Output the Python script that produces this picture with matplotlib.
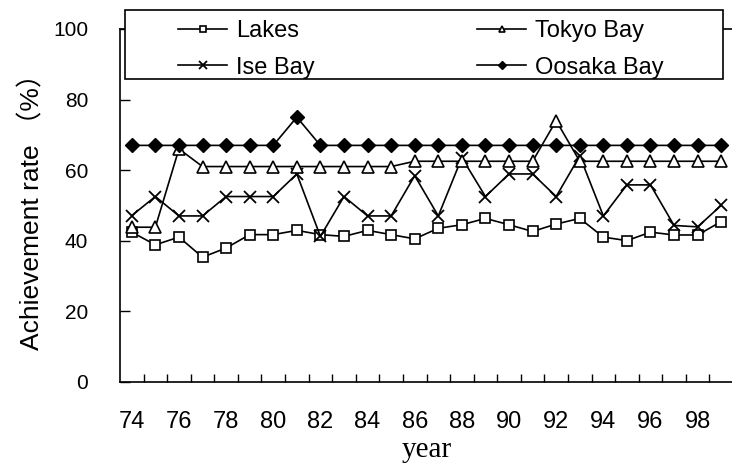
import numpy as np
import matplotlib
matplotlib.use("Agg")
import matplotlib.pyplot as plt
from matplotlib.ticker import FixedLocator
from matplotlib.patches import Rectangle

# years 1974-1999
years = np.arange(74, 100)

lakes = [42.4, 38.8, 41.0, 35.3, 37.9, 41.7, 41.7, 42.9, 41.7, 41.2, 42.9, 41.7, 40.5,
         43.5, 44.5, 46.3, 44.5, 42.6, 44.7, 46.3, 41.0, 40.0, 42.4, 41.6, 41.6, 45.4]
tokyo = [43.8, 43.8, 66.0, 61.0, 61.0, 61.0, 61.0, 61.0, 61.0, 61.0, 61.0, 61.0, 62.5,
         62.5, 62.5, 62.5, 62.5, 62.5, 74.0, 62.5, 62.5, 62.5, 62.5, 62.5, 62.5, 62.5]
ise = [47.1, 52.5, 47.0, 47.0, 52.5, 52.5, 52.5, 58.9, 41.2, 52.5, 47.0, 47.0, 58.4,
       47.0, 63.5, 52.5, 58.9, 58.9, 52.5, 64.0, 47.0, 55.8, 55.8, 44.3, 43.9, 50.0]
oosaka = [67.0, 67.0, 67.0, 67.0, 67.0, 67.0, 67.0, 75.0, 67.0, 67.0, 67.0, 67.0, 67.0,
          67.0, 67.0, 67.0, 67.0, 67.0, 67.0, 67.0, 67.0, 67.0, 67.0, 67.0, 67.0, 67.0]
xlabels = np.arange(74, 100, 2)

W, H = 732, 465
fig = plt.figure(figsize=(W / 100, H / 100), dpi=100)
ax = fig.add_axes([120 / W, 1 - 381.7 / H, 613 / W, 352.7 / H])

lw = 1.2
l1, = ax.plot(years, lakes, color="black", lw=lw, marker="s", ms=7.5, mfc="white", mec="black", mew=1.2, label="Lakes")
l2, = ax.plot(years, ise, color="black", lw=lw, marker="x", ms=9, mew=1.3, label="Ise Bay")
l3, = ax.plot(years, tokyo, color="black", lw=lw, marker="^", ms=8, mfc="white", mec="black", mew=1.2, label="Tokyo Bay")
l4, = ax.plot(years, oosaka, color="black", lw=lw, marker="D", ms=7.5, mfc="black", mec="black", label="Oosaka Bay")

# category style axis: ticks between years, labels on the years
ax.set_xlim(73.5, 99.5)
ax.set_ylim(0, 100)
ax.set_xticks(xlabels)
ax.xaxis.set_minor_locator(FixedLocator(np.arange(74.5, 99, 1)))
ax.set_yticks(np.arange(0, 101, 20))
ax.tick_params(axis="x", which="major", length=0, pad=21, labelsize=17)
ax.tick_params(axis="x", which="minor", direction="in", length=6, width=1)
ax.tick_params(axis="y", direction="in", length=7.5, width=1, pad=23, labelsize=15)
for lab in ax.get_xticklabels() + ax.get_yticklabels():
    lab.set_family("Liberation Sans")

ax.spines["right"].set_visible(False)
for s in ["left", "bottom", "top"]:
    ax.spines[s].set_linewidth(1.2)

ax.set_ylabel("Achievement rate （%）", fontsize=19,
              family=["Liberation Sans", "Noto Sans CJK JP"], labelpad=6)
ax.set_xlabel("year", fontsize=21, family="Liberation Serif", labelpad=3)

# legend box drawn over the top of the axes
box = Rectangle((125 / W, 1 - 79 / H), 598 / W, 69 / H, transform=fig.transFigure,
                facecolor="white", edgecolor="black", lw=1.2, zorder=4)
fig.patches.append(box)

opts = dict(loc="center left", bbox_transform=fig.transFigure, frameon=False,
            prop={"family": "Liberation Sans", "size": 17}, handlelength=2.08,
            markerscale=0.6, borderpad=0, borderaxespad=0, labelspacing=0.6,
            handletextpad=0.38)
leg1 = fig.legend([l1, l2], ["Lakes", "Ise Bay"], bbox_to_anchor=(178 / W, 1 - 49.5 / H), **opts)
leg2 = fig.legend([l3, l4], ["Tokyo Bay", "Oosaka Bay"], bbox_to_anchor=(477 / W, 1 - 49.5 / H), **opts)
leg1.set_zorder(5)
leg2.set_zorder(5)

fig.savefig("out.png", dpi=100)
